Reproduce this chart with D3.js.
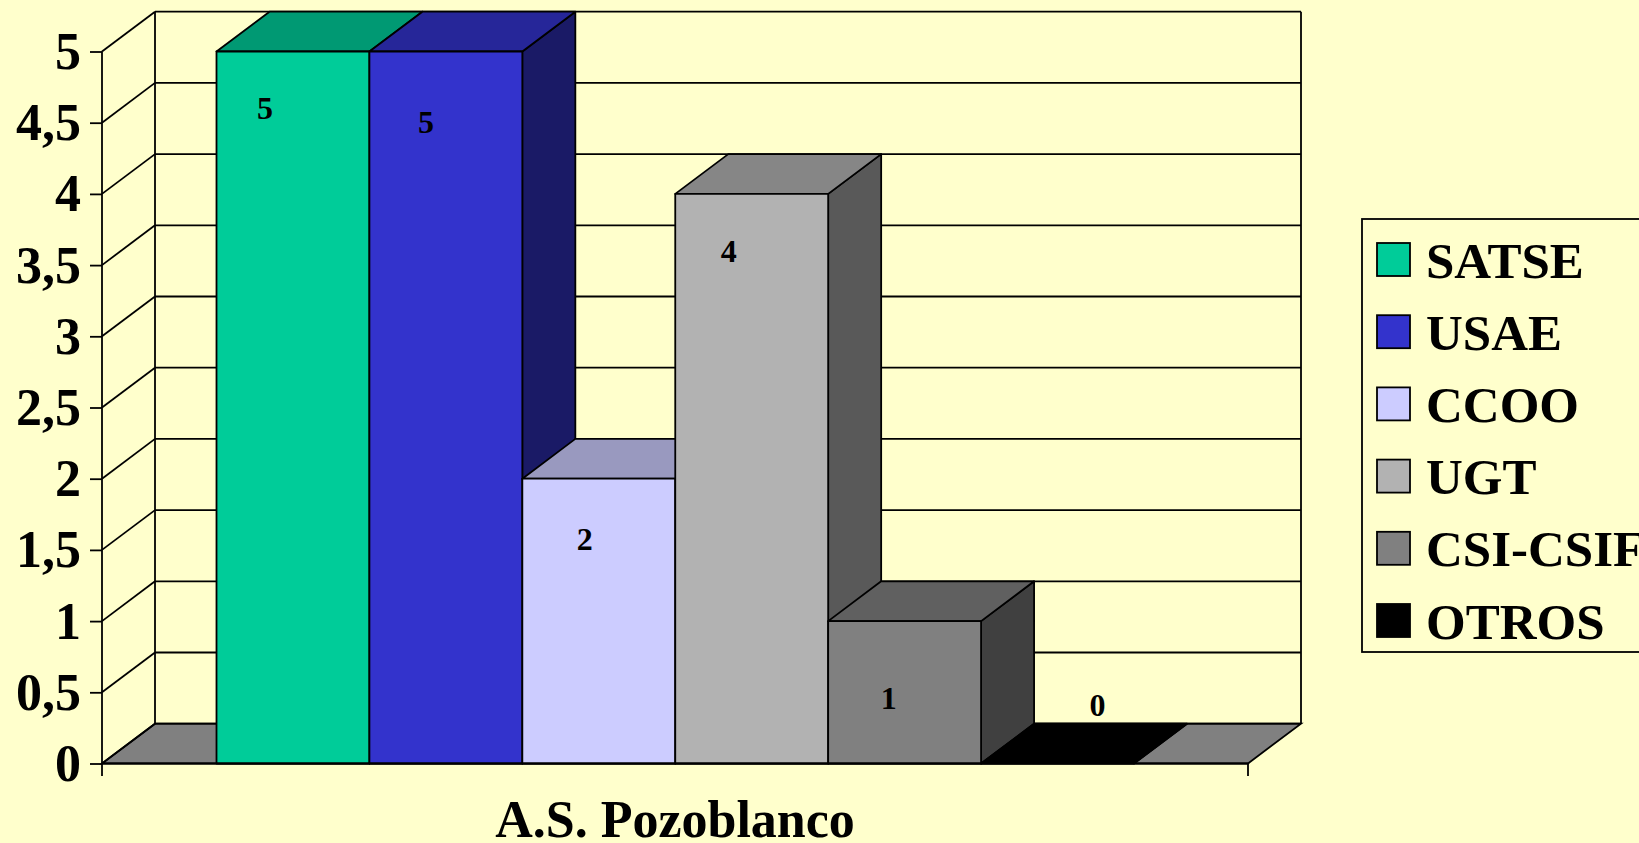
<!DOCTYPE html>
<html>
<head>
<meta charset="utf-8">
<script src="https://cdn.jsdelivr.net/npm/d3@7"></script>
<style>
html,body{margin:0;padding:0;background:#FFFFCC;overflow:hidden}
svg{display:block}
text{font-family:"Liberation Serif",serif;font-weight:700;fill:#000}
</style>
</head>
<body>
<script>
const categoryLabel = "A.S. Pozoblanco";
const seriesNames = ["SATSE","USAE","CCOO","UGT","CSI-CSIF","OTROS"];
const seriesValues = [5,5,2,4,1,0];
const seriesColors = ["#00CC99","#3333CC","#CCCCFF","#B2B2B2","#808080","#000000"];
const yTickValues = [0,0.5,1,1.5,2,2.5,3,3.5,4,4.5,5];
const yTickLabels = ["0","0,5","1","1,5","2","2,5","3","3,5","4","4,5","5"];
// per-bar label displacement from the top-front of the bar (layout only)
const labelNudgeX = [-28,-20,-14,-23,-16,40];
const labelNudgeY = [67,81,71,68,88,-48];

const W=1639,H=843;
const frontLeft=102, frontRight=1248, depthX=53, depthY=39.8;
const y=d3.scaleLinear().domain([0,5]).range([763.5,51.5]);
const x=d3.scaleBand().domain(seriesNames).range([216.5,1134]).padding(0);
const svg=d3.select("body").append("svg").attr("width",W).attr("height",H);
svg.append("rect").attr("width",W).attr("height",H).attr("fill","#FFFFCC");
const poly=pts=>pts.map(p=>p.join(",")).join(" ");
const sw=1.8;
const line=(x1,y1,x2,y2)=>svg.append("line").attr("x1",x1).attr("y1",y1).attr("x2",x2).attr("y2",y2).attr("stroke","#000").attr("stroke-width",sw);

// floor
svg.append("polygon").attr("points",poly([[frontLeft,y(0)],[frontRight,y(0)],[frontRight+depthX,y(0)-depthY],[frontLeft+depthX,y(0)-depthY]]))
  .attr("fill","#808080").attr("stroke","#000").attr("stroke-width",sw);
// walls and grid
yTickValues.forEach(v=>{
  const yy=y(v);
  line(frontLeft,yy,frontLeft+depthX,yy-depthY);
  line(frontLeft+depthX,yy-depthY,frontRight+depthX,yy-depthY);
});
line(frontLeft+depthX,y(5)-depthY,frontLeft+depthX,y(0)-depthY);
line(frontRight+depthX,y(5)-depthY,frontRight+depthX,y(0)-depthY);

// bars
const shade=(c,k)=>{const r=d3.rgb(c);return d3.rgb(r.r*k,r.g*k,r.b*k).formatHex();};
seriesNames.forEach((name,i)=>{
  const v=seriesValues[i],c=seriesColors[i];
  const x0=x(name),x1=x0+x.bandwidth(),yt=y(v),yb=y(0);
  const g=svg.append("g").attr("stroke","#000").attr("stroke-width",sw).attr("stroke-linejoin","round");
  g.append("polygon").attr("points",poly([[x1,yt],[x1+depthX,yt-depthY],[x1+depthX,yb-depthY],[x1,yb]])).attr("fill",shade(c,0.5));
  g.append("polygon").attr("points",poly([[x0,yt],[x1,yt],[x1+depthX,yt-depthY],[x0+depthX,yt-depthY]])).attr("fill",shade(c,0.75));
  g.append("rect").attr("x",x0).attr("y",yt).attr("width",x.bandwidth()).attr("height",yb-yt).attr("fill",c);
});
// value labels
seriesNames.forEach((name,i)=>{
  svg.append("text").attr("x",x(name)+x.bandwidth()/2+labelNudgeX[i]).attr("y",y(seriesValues[i])+labelNudgeY[i])
    .attr("text-anchor","middle").attr("font-size",32).text(seriesValues[i]);
});

// y axis
const yAxis=d3.axisLeft(y).tickValues(yTickValues).tickFormat((d,i)=>yTickLabels[i]).tickSize(12).tickPadding(9);
const ga=svg.append("g").attr("transform",`translate(${frontLeft},0)`).call(yAxis);
ga.select(".domain").remove();
ga.selectAll("line").attr("stroke","#000").attr("stroke-width",sw);
ga.selectAll("text").attr("font-size",52).attr("dy",null).attr("dominant-baseline",null).each(function(d){d3.select(this).attr("y",17);});
line(frontLeft,y(5),frontLeft,776);

// x axis
line(frontLeft,y(0),frontRight,y(0));
line(frontRight,y(0),frontRight,776);
svg.append("text").attr("x",675).attr("y",837).attr("text-anchor","middle").attr("font-size",52).text(categoryLabel);

// legend
const lg=svg.append("g");
lg.append("rect").attr("x",1362).attr("y",219).attr("width",320).attr("height",433).attr("fill","#FFFFCC").attr("stroke","#000").attr("stroke-width",sw);
const legendY=d3.scalePoint().domain(seriesNames).range([259.5,620.5]);
seriesNames.forEach((name,i)=>{
  const cy=legendY(name);
  lg.append("rect").attr("x",1377).attr("y",cy-16.5).attr("width",33).attr("height",33).attr("fill",seriesColors[i]).attr("stroke","#000").attr("stroke-width",sw);
  lg.append("text").attr("x",1426).attr("y",cy+18).attr("font-size",51).text(name);
});
</script>
</body>
</html>
